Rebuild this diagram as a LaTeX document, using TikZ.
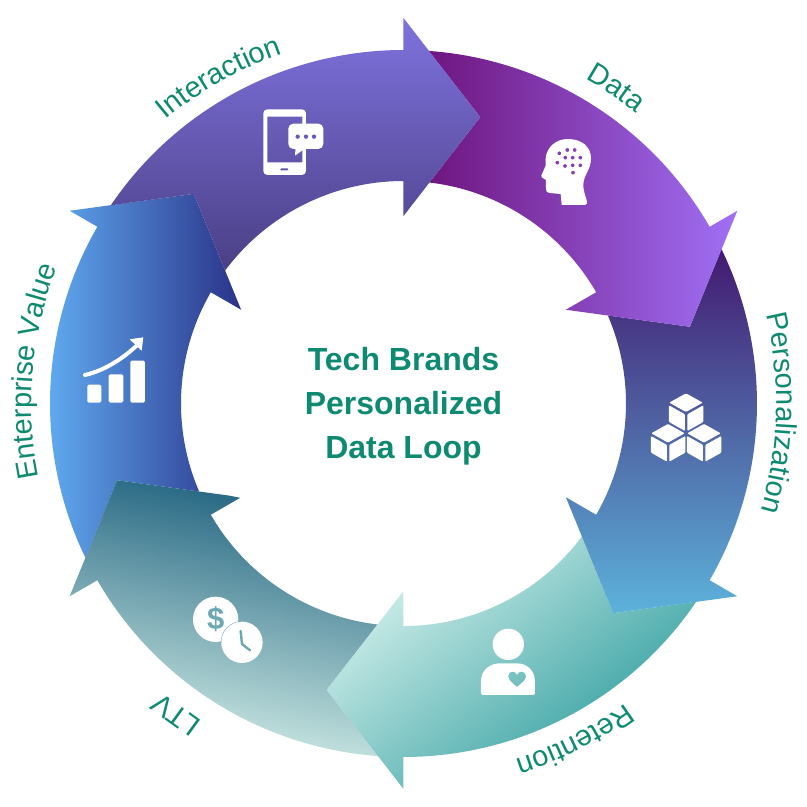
\documentclass[tikz,border=0pt]{standalone}
\usepackage{fontspec}
\setmainfont{Liberation Sans}
\usetikzlibrary{decorations.text}
\definecolor{loopgreen}{HTML}{0E8A70}
\definecolor{coinmark}{HTML}{6CA8B2}
\definecolor{bubbledot}{HTML}{665AB4}
\definecolor{intA}{HTML}{7F72DE}
\definecolor{intB}{HTML}{4A3F85}
\definecolor{dataA}{HTML}{6F1680}
\definecolor{dataB}{HTML}{A070F5}
\definecolor{persA}{HTML}{431A70}
\definecolor{persB}{HTML}{5CB2DA}
\definecolor{retA}{HTML}{C5E9E5}
\definecolor{retB}{HTML}{50AEAE}
\definecolor{ltvA}{HTML}{2A6A85}
\definecolor{ltvB}{HTML}{BFDFDC}
\definecolor{entA}{HTML}{5FA9EF}
\definecolor{entB}{HTML}{2A3288}
\tikzset{
    iconbit/.style={fill=white},
    zoomframe/.style 2 args={shift={(#1,#2)},scale=0.3333},
    looplabel/.style={decorate, decoration={text along path, text align=center,
        text={|\fontsize{29}{29}\selectfont\color{loopgreen}|#1}}},
}
\newcommand{\segpath}[1]{(#1+55.9:353.5) arc[start angle=#1+55.9, end angle=#1, radius=353.5]
    -- (#1:385.5) -- (#1-15:296.5) -- (#1:187.5) -- (#1:222.5)
    arc[start angle=#1, end angle=#1+53.3, radius=222.5] -- (#1+45:296.5) -- cycle}
\newcommand{\gradseg}[6]{%
    \begin{scope}
        \clip \segpath{#1};
        \begin{scope}[transform canvas={rotate=#2}]
            \shade[left color=#5, right color=#6] (#3,-430) rectangle (#4,430);
        \end{scope}
    \end{scope}}
\newcommand{\arclabel}[3]{\path[looplabel={#1}] (#2+45:#3) arc[start angle=#2+45, end angle=#2-45, radius=#3];}
\begin{document}
\begin{tikzpicture}[x=1pt, y=1pt]
\useasboundingbox (-403.5,-403.5) rectangle (403.5,403.5);
\gradseg{150}{0}{-354}{-162}{entA}{entB}
\gradseg{-150}{-101.5}{125}{354}{ltvA}{ltvB}
\gradseg{-90}{-51.8}{147}{354}{retA}{retB}
\gradseg{-30}{-90}{-154}{210}{persA}{persB}
\gradseg{30}{0}{26}{334}{dataA}{dataB}
\gradseg{90}{-90}{-385.5}{-133}{intA}{intB}

\arclabel{Interaction}{119.5}{370}
\arclabel{Data}{56}{372}
\arclabel{Personalization}{-1.5}{373}
\arclabel{Retention}{-63}{373}
\node[font=\fontsize{29}{29}\selectfont, text=loopgreen, rotate=144] (ltvlabel) at (233.8:386) {LTV};
\arclabel{Enterprise Value}{175}{372}

\node[font=\fontsize{32}{44}\selectfont\bfseries, text=loopgreen, align=center] (title) at (0,-3)
    {Tech Brands\\Personalized\\Data Loop};

\begin{scope}[shift={(-403.5,403.5)}, y=-1pt]
    % phone
    \begin{scope}[zoomframe={230}{0}]
        \fill[iconbit, even odd rule] [rounded corners=4pt] (100,328) rectangle (228,525)
            [sharp corners] (112,350) rectangle (217,487) [rounded corners=1pt] (150,505) rectangle (176,511);
        \fill[iconbit, rounded corners=5pt] (175,371) rectangle (280,447);
        \fill[iconbit] (197,440) -- (195,467) -- (226,445) -- cycle;
        \foreach \dotx in {203,228,252} {
            \fill[bubbledot] (\dotx,410) circle (6.5);
        }
    \end{scope}
    % head
    \begin{scope}[zoomframe={520}{120}]
        \fill[iconbit, even odd rule] (125,255) -- (122,222) -- (90,219) .. controls (80,218) and (77,212) .. (78,205)
            -- (78,180) -- (65,172) .. controls (63,168) and (64,164) .. (67,160) -- (77,137) -- (77,115)
            .. controls (80,80) and (110,57) .. (143,57) .. controls (185,57) and (213,80) .. (213,115)
            .. controls (213,150) and (190,165) .. (190,195) .. controls (190,220) and (203,240) .. (201,250)
            .. controls (200,254) and (198,255) .. (195,255) -- cycle
            foreach \px/\py in {118/100,142/90,164/90,112/128,136/113,158/113,181/113,135/138,158/136,181/136,159/158}
            {(\px,\py) circle (6)};
    \end{scope}
    % cubes
    \begin{scope}[zoomframe={520}{120}]
        \foreach \cx/\cy in {0/0,-54/92,54/92} {
            \fill[iconbit, rounded corners=1pt] (498+\cx,820+\cy) -- (548+\cx,848+\cy) -- (498+\cx,876+\cy) -- (448+\cx,848+\cy) -- cycle;
            \fill[iconbit, rounded corners=1pt] (447+\cx,856+\cy) -- (495+\cx,883+\cy) -- (495+\cx,933+\cy) -- (447+\cx,906+\cy) -- cycle;
            \fill[iconbit, rounded corners=1pt] (502+\cx,883+\cy) -- (550+\cx,856+\cy) -- (550+\cx,906+\cy) -- (502+\cx,933+\cy) -- cycle;
        }
    \end{scope}
    % person
    \begin{scope}[zoomframe={150}{570}]
        \fill[iconbit] (1075,223) circle (47);
        \fill[iconbit, even odd rule] (993,368) -- (993,335) .. controls (993,300) and (1020,280) .. (1050,280)
            -- (1100,280) .. controls (1130,280) and (1155,300) .. (1155,335) -- (1155,368)
            .. controls (1155,373) and (1153,375) .. (1148,375) -- (1000,375) .. controls (995,375) and (993,373) .. (993,368) -- cycle
            (1101,351) .. controls (1085,338) and (1075,330) .. (1075,319) .. controls (1075,302) and (1095,300) .. (1101,314)
            .. controls (1107,300) and (1128,302) .. (1128,319) .. controls (1128,330) and (1117,338) .. (1101,351) -- cycle;
    \end{scope}
    % coins
    \begin{scope}[zoomframe={150}{570}]
        \fill[iconbit] (197,148) circle (68);
        \node[text=coinmark, font=\fontsize{31}{31}\selectfont\bfseries] (dollar) at (197,148) {\$};
        \fill[iconbit] (276,217) circle (62);
        \draw[coinmark, line width=0.4pt] (213,217) arc[start angle=180, end angle=265, radius=63];
        \draw[coinmark, line width=2.4pt, line cap=round, line join=round] (272,183) -- (276,222) -- (300,241);
    \end{scope}
    % chart
    \begin{scope}[zoomframe={0}{180}]
        \fill[iconbit, rounded corners=1.5pt] (262,614) rectangle (304,668);
        \fill[iconbit, rounded corners=1.5pt] (326,583) rectangle (370,668);
        \fill[iconbit, rounded corners=1.5pt] (391,542) rectangle (435,668);
        \draw[white, line width=4pt, line cap=round] (255,585) .. controls (320,570) and (375,530) .. (412,495);
        \fill[iconbit] (389,478) -- (430,472) -- (425,512) -- cycle;
    \end{scope}
\end{scope}
\end{tikzpicture}
\end{document}
